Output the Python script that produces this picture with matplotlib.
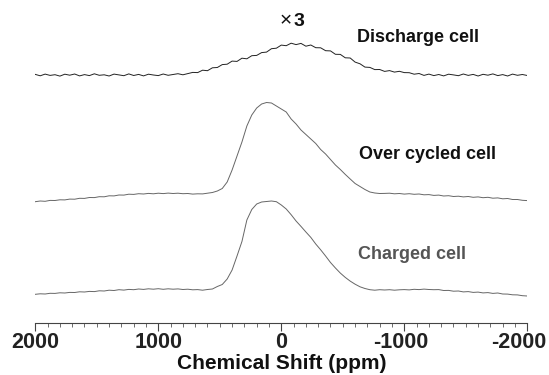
import numpy as np
import matplotlib
matplotlib.use("Agg")
import matplotlib.pyplot as plt
from matplotlib.ticker import MultipleLocator
from matplotlib.transforms import ScaledTranslation

plt.rcParams['font.family'] = ['Liberation Sans', 'DejaVu Sans']

# chemical shift axis (ppm), one sample every 40 ppm
shift_ppm = np.arange(2000, -2001, -40)

# intensities (arbitrary units, relative to each baseline)
discharge = [0.6, -0.8, 0.9, -0.4, 0.3, -1.1, 0.8, -0.2, 1.0, -0.9,
             0.4, -0.6, 1.2, -0.3, 0.2, -1.0, 0.9, 0.1, -0.7, 1.1,
             -0.5, 0.6, -0.9, 0.8, 0.0, -0.6, 1.0, -0.3, 0.5, 1.3,
             0.2, 1.4, 2.6, 2.4, 4.8, 4.3, 7.2, 7.5, 10.4, 10.8,
             13.9, 13.6, 16.8, 16.2, 19.3, 19.6, 22.4, 22.9, 26.3, 26.8,
             29.9, 29.3, 31.8, 30.4, 31.6, 28.8, 30.0, 27.3, 27.2, 24.3,
             24.1, 20.7, 20.6, 17.2, 17.0, 12.9, 11.2, 7.9, 7.6, 5.4,
             5.5, 3.6, 4.4, 2.9, 3.7, 2.4, 2.3, 0.8, 1.5, -0.4,
             0.9, -0.6, 0.5, -0.9, 0.8, 0.1, -0.7, 1.0, -0.4, 0.6,
             -1.0, 0.7, -0.2, 1.1, -0.6, 0.4, -1.0, 0.9, -0.3, 0.5,
             -0.5]

over_cycled = [-7.7, -7.0, -7.3, -6.4, -6.5, -5.8, -5.9, -5.1, -5.2, -4.3,
               -4.4, -3.5, -3.6, -2.7, -2.8, -1.8, -1.9, -1.0, -1.1, -0.2,
               -0.4, 0.3, 0.0, 0.6, 0.2, 0.8, 0.4, 0.9, 0.5, 0.8,
               0.3, 0.5, -0.1, 0.2, 0.1, 0.8, 1.5, 3.0, 5.5, 12.0,
               24.0, 38.0, 52.0, 68.0, 79.0, 86.0, 90.0, 91.5, 91.0, 88.0,
               85.0, 82.0, 75.0, 70.0, 64.0, 59.5, 55.0, 50.5, 44.5, 40.0,
               34.5, 29.0, 24.5, 19.6, 15.0, 10.5, 7.5, 4.5, 2.0, 1.0,
               0.5, 0.6, 0.8, 0.2, 0.5, -0.1, 0.3, -0.3, 0.0, -0.8,
               -0.6, -1.4, -1.1, -2.0, -1.7, -2.5, -2.2, -2.9, -2.5, -3.3,
               -2.9, -3.7, -3.3, -4.2, -3.9, -4.8, -4.5, -5.5, -5.5, -6.3,
               -6.6]

charged = [-4.3, -3.8, -4.0, -3.3, -3.4, -2.8, -3.0, -2.4, -2.5, -1.8,
           -2.0, -1.4, -1.6, -0.8, -1.0, -0.2, -0.5, 0.3, -0.1, 0.6,
           0.3, 1.0, 0.6, 1.2, 0.8, 1.3, 0.7, 1.2, 0.8, 1.1,
           0.5, 0.8, 0.2, 0.4, -0.2, 0.5, 1.0, 3.5, 5.5, 11.0,
           20.0, 34.0, 48.5, 70.0, 80.5, 86.0, 88.0, 88.5, 89.0, 88.3,
           85.0, 81.0, 75.3, 69.0, 63.6, 58.0, 52.6, 46.0, 40.2, 34.0,
           27.5, 22.0, 16.9, 12.6, 8.9, 5.8, 3.2, 1.5, 0.3, -0.2,
           0.3, 0.0, 0.3, -0.2, 0.2, 0.4, 0.1, 0.7, 0.4, 0.9,
           0.5, 0.3, 0.4, -0.5, -0.4, -1.2, -1.0, -1.9, -1.6, -2.4,
           -2.1, -2.9, -2.6, -3.4, -3.0, -4.0, -4.1, -4.8, -4.9, -5.7,
           -6.0]

tick_values = [2000, 1000, 0, -1000, -2000]
tick_labels = ['2000', '1000', '0', '-1000', '-2000']

W, H = 549, 375
fig = plt.figure(figsize=(W / 100, H / 100), dpi=100)
ax = fig.add_axes([35.3 / W, 1 - 322.5 / H, 492 / W, 322.5 / H])

# vertical stacking of the three spectra
offset_discharge = 247.5
offset_over = 128.5
offset_charged = 32.5

ax.plot(shift_ppm, np.array(discharge) + offset_discharge, color='#222222', lw=0.7)
ax.plot(shift_ppm, np.array(over_cycled) + offset_over, color='#666666', lw=0.7)
ax.plot(shift_ppm, np.array(charged) + offset_charged, color='#666666', lw=0.7)

ax.set_xlim(2000, -2000)
ax.set_ylim(0, 322.5)
for s in ['left', 'right', 'top']:
    ax.spines[s].set_visible(False)
ax.spines['bottom'].set_color('#444444')
ax.spines['bottom'].set_linewidth(0.8)
ax.set_yticks([])

ax.set_xticks(tick_values)
ax.set_xticklabels(tick_labels, fontsize=15.5, fontweight='bold', color='#222222')
ax.xaxis.set_minor_locator(MultipleLocator(100))
ax.tick_params(axis='x', which='major', direction='out', length=6, width=0.8,
               color='#444444', pad=0.5)
ax.tick_params(axis='x', which='minor', direction='out', length=3, width=0.6,
               color='#555555')
# negative labels sit a little to the left, last one kept inside the frame
shifts = {'-1000': -4, '-2000': -9}
for lab in ax.get_xticklabels():
    dx = shifts.get(lab.get_text(), 0)
    if dx:
        lab.set_transform(lab.get_transform() + ScaledTranslation(dx / 100, 0, fig.dpi_scale_trans))

ax.set_xlabel('Chemical Shift (ppm)', fontsize=15, fontweight='bold', color='#111111', labelpad=1)

# scale factor of the top trace: thin "x" sign, bold digit
fig.text(280 / W, 1 - 26 / H, '\u00d7', fontsize=15, color='#111111',
         ha='left', va='baseline')
fig.text(293.5 / W, 1 - 26 / H, '3', fontsize=14, fontweight='bold', color='#111111',
         ha='left', va='baseline')
fig.text(357 / W, 1 - 42 / H, 'Discharge cell', fontsize=13, fontweight='bold', color='#111111',
         ha='left', va='baseline')
fig.text(359 / W, 1 - 158.5 / H, 'Over cycled cell', fontsize=13, fontweight='bold', color='#111111',
         ha='left', va='baseline')
fig.text(358 / W, 1 - 259 / H, 'Charged cell', fontsize=13, fontweight='bold', color='#555555',
         ha='left', va='baseline')

fig.savefig('out.png', dpi=100)
